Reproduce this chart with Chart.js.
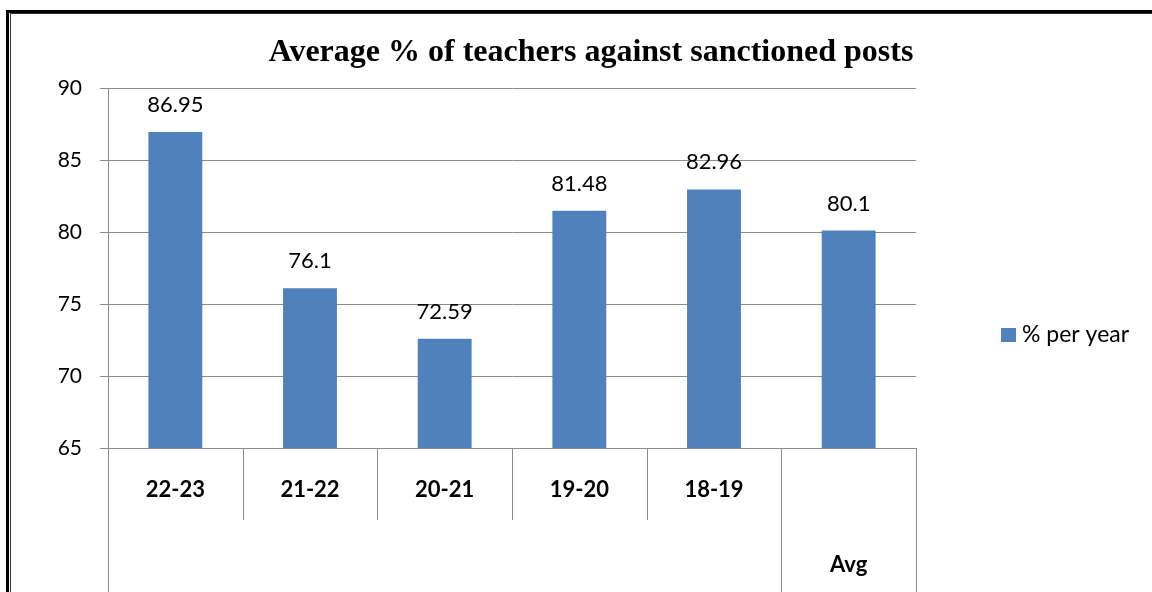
<!DOCTYPE html>
<html>
<head>
<meta charset="utf-8">
<script src="https://cdn.jsdelivr.net/npm/chart.js@4.4.0/dist/chart.umd.min.js"></script>
<style>
  html, body { margin: 0; padding: 0; background: #fff; }
  #wrap { width: 1152px; height: 592px; position: relative; }
</style>
</head>
<body>
<div id="wrap"><canvas id="c" width="1152" height="592"></canvas></div>
<script>
const chartTitle = "Average % of teachers against sanctioned posts";
const categories = ["22-23", "21-22", "20-21", "19-20", "18-19", ""];
const groupLabels = ["", "", "", "", "", "Avg"];
const seriesName = "% per year";
const seriesValues = [86.95, 76.1, 72.59, 81.48, 82.96, 80.1];
const valueLabels = ["86.95", "76.1", "72.59", "81.48", "82.96", "80.1"];
const yTicks = [65, 70, 75, 80, 85, 90];

const BAR_COLOR = "#4F81BD";
const GRID_COLOR = "#8C8C8C";
const FONT = "Lato, 'Open Sans', sans-serif";

const framePlugin = {
  id: 'frame',
  afterDraw(chart) {
    const ctx = chart.ctx;
    ctx.save();
    ctx.fillStyle = "#000";
    ctx.fillRect(6, 10, 3, 600);
    ctx.fillRect(6, 10, 1160, 3);
    ctx.fillStyle = "#333";
    ctx.fillRect(10, 13, 1, 600);
    ctx.fillRect(10, 13, 1160, 1);
    ctx.restore();
  }
};

const titlePlugin = {
  id: 'ctitle',
  afterDraw(chart) {
    const ctx = chart.ctx;
    ctx.save();
    ctx.font = "bold 32px 'Liberation Serif', 'Times New Roman', serif";
    ctx.fillStyle = "#000";
    ctx.textAlign = "center";
    ctx.textBaseline = "middle";
    ctx.fillText(chartTitle, 591, 53);
    ctx.restore();
  }
};

const catAxisPlugin = {
  id: 'catAxis',
  afterDraw(chart) {
    const ctx = chart.ctx;
    const xs = chart.scales.x;
    const area = chart.chartArea;
    const n = categories.length;
    const w = (xs.getPixelForValue(1) - xs.getPixelForValue(0));
    const bottom = area.bottom;
    const row1 = bottom + 72;
    ctx.save();
    ctx.strokeStyle = GRID_COLOR;
    ctx.lineWidth = 1;
    for (let i = 0; i <= n; i++) {
      const x = Math.round(xs.getPixelForValue(0) - w / 2 + i * w) + 0.5;
      let full = (i === 0 || i === n);
      if (i > 0 && i < n && groupLabels[i] !== groupLabels[i - 1]) full = true;
      ctx.beginPath();
      ctx.moveTo(x, bottom);
      ctx.lineTo(x, full ? 600 : row1);
      ctx.stroke();
    }
    ctx.fillStyle = "#000";
    ctx.font = "bold 22px " + FONT;
    ctx.textAlign = "center";
    ctx.textBaseline = "middle";
    for (let i = 0; i < n; i++) {
      const x = xs.getPixelForValue(i);
      if (categories[i]) ctx.fillText(categories[i], x, bottom + 42);
      if (groupLabels[i]) ctx.fillText(groupLabels[i], x, bottom + 117);
    }
    ctx.restore();
  }
};

const valueLabelPlugin = {
  id: 'vlabels',
  afterDatasetsDraw(chart) {
    const ctx = chart.ctx;
    const meta = chart.getDatasetMeta(0);
    ctx.save();
    ctx.font = "22px " + FONT;
    ctx.fillStyle = "#000";
    ctx.textAlign = "center";
    ctx.textBaseline = "middle";
    meta.data.forEach((bar, i) => {
      ctx.fillText(valueLabels[i], bar.x, bar.y - 27);
    });
    ctx.restore();
  }
};

const legendPlugin = {
  id: 'clegend',
  afterDraw(chart) {
    const ctx = chart.ctx;
    ctx.save();
    const ds = chart.data.datasets[0];
    ctx.fillStyle = ds.backgroundColor;
    ctx.fillRect(1001, 328, 15, 14);
    ctx.fillStyle = "#000";
    ctx.font = "23px " + FONT;
    ctx.textAlign = "left";
    ctx.textBaseline = "middle";
    ctx.fillText(ds.label, 1022, 335);
    ctx.restore();
  }
};

new Chart(document.getElementById('c'), {
  type: 'bar',
  data: {
    labels: categories.map((c, i) => c || groupLabels[i]),
    datasets: [{
      label: seriesName,
      data: seriesValues,
      backgroundColor: BAR_COLOR,
      borderWidth: 0,
      barPercentage: 0.4,
      categoryPercentage: 1.0
    }]
  },
  options: {
    responsive: false,
    animation: false,
    devicePixelRatio: 1,
    layout: { padding: { left: 0, top: 88, right: 236, bottom: 144 } },
    plugins: {
      legend: { display: false },
      title: { display: false },
      tooltip: { enabled: false }
    },
    scales: {
      x: {
        display: false,
        offset: true
      },
      y: {
        min: 65,
        max: 90,
        afterFit(scale) { scale.width = 108; },
        afterBuildTicks(scale) { scale.ticks = yTicks.map(v => ({ value: v })); },
        ticks: {
          padding: 18,
          color: "#000",
          font: { family: FONT, size: 21 }
        },
        grid: {
          color: GRID_COLOR,
          tickLength: 8,
          drawTicks: true,
          lineWidth: 1
        },
        border: { display: true, color: GRID_COLOR, width: 1 }
      }
    }
  },
  plugins: [framePlugin, titlePlugin, catAxisPlugin, valueLabelPlugin, legendPlugin]
});
</script>
</body>
</html>
